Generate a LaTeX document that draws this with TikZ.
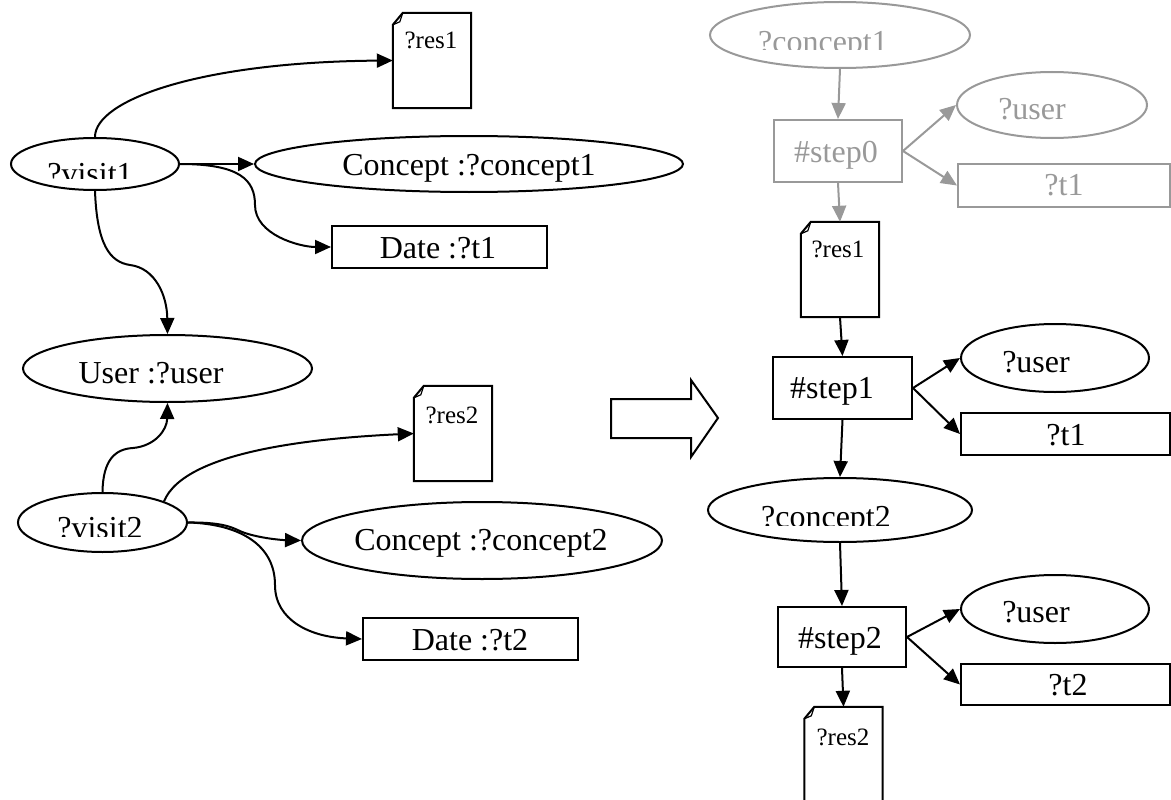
\documentclass[tikz,border=0pt]{standalone}
\usepackage{fontspec}
\setmainfont{Liberation Serif}
\usetikzlibrary{shapes.geometric,arrows.meta}
\definecolor{lg}{RGB}{153,153,153}
\tikzset{
 ln/.style={line width=2pt},
 arr/.style={ln,-{Triangle[length=16pt,width=14pt]}},
 ell/.style={ellipse,draw,ln,inner sep=0pt},
 box/.style={rectangle,draw,ln,inner sep=0pt},
 docn/.style={rectangle,inner sep=0pt,minimum width=78pt,minimum height=95pt},
 big/.style={font=\fontsize{32}{38}\selectfont,inner sep=0pt,anchor=base},
 small/.style={font=\fontsize{25}{30}\selectfont,inner sep=0pt,anchor=base},
 faded/.style={draw=lg,text=lg},
}
\newcommand{\docoutline}[2][black]{%
 \draw[ln,#1] ([xshift=10pt]#2.north west) -- (#2.north east) -- (#2.south east) -- (#2.south west) -- ([yshift=-12pt]#2.north west) -- cycle;
 \draw[line width=1.2pt,#1] ([xshift=10pt]#2.north west) -- ([xshift=7pt,yshift=-9pt]#2.north west) -- ([yshift=-12pt]#2.north west);
}
\begin{document}
\begin{tikzpicture}[x=1pt,y=-1pt]
\useasboundingbox (0,0) rectangle (1171,800);
\clip (0,0) rectangle (1171,800);
% ---------- left graph ----------
\node[ell,minimum width=168pt,minimum height=52pt] (v1) at (95,164) {};
\node[ell,minimum width=428pt,minimum height=56pt] (c1) at (469,164) {};
\node[box,minimum width=215pt,minimum height=42pt] (d1) at (439.5,247) {};
\node[docn] (r1) at (432,60.5) {};
\docoutline{r1}
\node[ell,minimum width=289pt,minimum height=67pt] (u) at (167.5,368.5) {};
\node[docn] (r2) at (453,433.5) {};
\docoutline{r2}
\node[ell,minimum width=169pt,minimum height=59pt] (v2) at (102.5,522.5) {};
\node[ell,minimum width=360pt,minimum height=77pt] (c2) at (482,540.5) {};
\node[box,minimum width=215pt,minimum height=42pt] (d2) at (470.5,639) {};

\begin{scope}
\clip (0,100) rectangle (300,178);
\node[big] (tv1) at (90,184) {?visit1};
\end{scope}
\node[big] (tc1) at (469,175) {Concept :?concept1};
\node[big] (td1) at (438,258) {Date :?t1};
\node[small] (tr1) at (431,49) {?res1};
\node[big] (tu) at (151,383) {User :?user};
\node[small] (tr2) at (452,423) {?res2};
\begin{scope}
\clip (0,480) rectangle (300,536);
\node[big] (tv2) at (100,538) {?visit2};
\end{scope}
\node[big] (tc2) at (481,550) {Concept :?concept2};
\node[big] (td2) at (470,650) {Date :?t2};

\draw[arr] (v1.north) .. controls (95,100) and (200,62) .. (r1.west);
\draw[arr] (v1.east) -- (c1.west);
\draw[arr] (v1.east) .. controls (240,164) and (255,180) .. (255,205) .. controls (255,235) and (300,247) .. (d1.west);
\draw[arr] (v1.south) .. controls (97,245) and (110,262) .. (130,265) .. controls (155,268) and (167,295) .. (u.north);
\draw[arr] (v2.north) .. controls (103,460) and (115,449) .. (133,448) .. controls (155,446) and (167,430) .. (u.south);
\draw[arr] (v2.19) .. controls (185,450) and (320,438) .. (r2.west);
\draw[arr] (v2.east) .. controls (230,522) and (235,530) .. (245,533) .. controls (260,538) and (280,540) .. (c2.west);
\draw[arr] (v2.east) .. controls (240,524) and (275,545) .. (275,585) .. controls (275,620) and (310,637) .. (d2.west);

% ---------- big hollow arrow ----------
\draw[ln] (611,399) -- (691,399) -- (691,380) -- (718,418) -- (691,457) -- (691,438) -- (611,438) -- cycle;

% ---------- right chain ----------
\node[ell,faded,minimum width=260pt,minimum height=66pt] (rc1) at (840,35) {};
\node[box,faded,minimum width=128pt,minimum height=62pt] (s0) at (838,151) {};
\node[ell,faded,minimum width=190pt,minimum height=66pt] (ru0) at (1052,105) {};
\node[box,faded,minimum width=212pt,minimum height=43pt] (rt0) at (1064,185.5) {};
\node[docn] (rr1) at (840,269.5) {};
\docoutline{rr1}
\node[box,minimum width=139pt,minimum height=62pt] (s1) at (842.5,388) {};
\node[ell,minimum width=188pt,minimum height=68pt] (ru1) at (1055,358) {};
\node[box,minimum width=209pt,minimum height=42pt] (rt1) at (1065.5,434) {};
\node[ell,minimum width=264pt,minimum height=64pt] (rc2) at (840,510) {};
\node[box,minimum width=128pt,minimum height=60pt] (s2) at (842,637) {};
\node[ell,minimum width=188pt,minimum height=68pt] (ru2) at (1055,609) {};
\node[box,minimum width=209pt,minimum height=41pt] (rt2) at (1065.5,684.5) {};
\node[docn] (rr2) at (843.5,754.5) {};
\docoutline{rr2}

\begin{scope}
\clip (700,0) rectangle (1000,50);
\node[big,text=lg] (trc1) at (823,53) {?concept1};
\end{scope}
\node[big,text=lg] (ts0) at (836,162) {\#step0};
\node[big,text=lg] (tru0) at (1032,119) {?user};
\node[big,text=lg] (trt0) at (1064,195) {?t1};
\node[small] (trr1) at (838,257) {?res1};
\node[big] (ts1) at (832,398) {\#step1};
\node[big] (tru1) at (1036,372) {?user};
\node[big] (trt1) at (1066,445) {?t1};
\begin{scope}
\clip (700,470) rectangle (1000,525);
\node[big] (trc2) at (826,527) {?concept2};
\end{scope}
\node[big] (ts2) at (840,648) {\#step2};
\node[big] (tru2) at (1036,622) {?user};
\node[big] (trt2) at (1068,695) {?t2};
\node[small] (trr2) at (843,745) {?res2};

\draw[arr,lg] (rc1.south) -- (s0.north);
\draw[arr,lg] (s0.east) -- (ru0.west);
\draw[arr,lg] (s0.east) -- (rt0.west);
\draw[arr,lg] (s0.south) -- (rr1.north);
\draw[arr] (rr1.south) -- (s1.north);
\draw[arr] (s1.east) -- (ru1.west);
\draw[arr] (s1.east) -- (rt1.west);
\draw[arr] (s1.south) -- (rc2.north);
\draw[arr] (rc2.south) -- (s2.north);
\draw[arr] (s2.east) -- (ru2.west);
\draw[arr] (s2.east) -- (rt2.west);
\draw[arr] (s2.south) -- (rr2.north);
\end{tikzpicture}
\end{document}
